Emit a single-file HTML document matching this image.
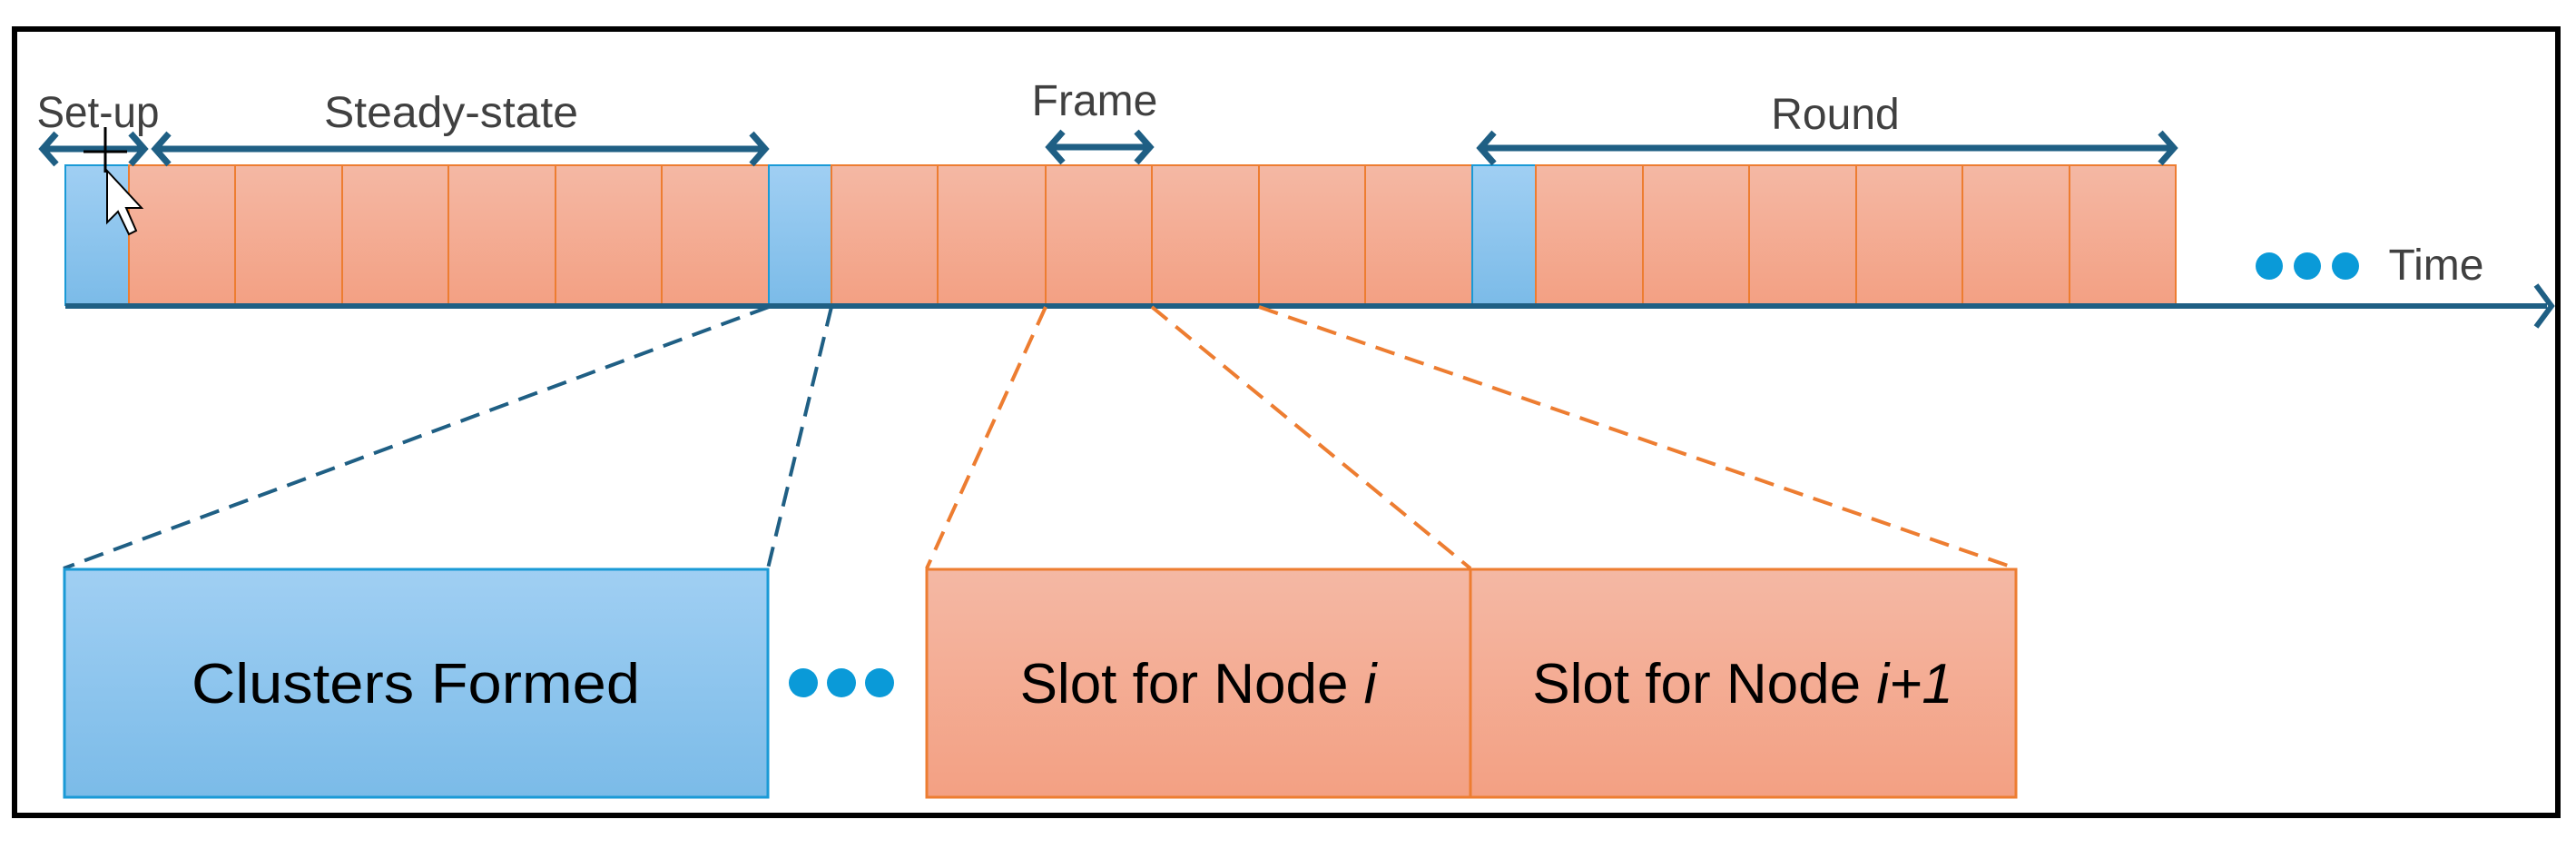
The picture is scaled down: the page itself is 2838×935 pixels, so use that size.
<!DOCTYPE html>
<html><head><meta charset="utf-8"><style>
html,body{margin:0;padding:0;background:#fff;}
svg{display:block;}
text{font-family:"Liberation Sans",sans-serif;}
</style></head><body>
<svg width="2838" height="935" viewBox="0 0 2838 935" xmlns="http://www.w3.org/2000/svg">
<defs>
<linearGradient id="bl" x1="0" y1="0" x2="0" y2="1"><stop offset="0" stop-color="#a0cff3"/><stop offset="1" stop-color="#7bbbe8"/></linearGradient>
<linearGradient id="or" x1="0" y1="0" x2="0" y2="1"><stop offset="0" stop-color="#f4b8a4"/><stop offset="1" stop-color="#f3a083"/></linearGradient>
</defs>
<rect x="16" y="32" width="2802" height="866" fill="none" stroke="#000" stroke-width="6"/>

<rect x="72" y="182" width="70" height="154" fill="url(#bl)" stroke="#1a9ad6" stroke-width="2"/>
<rect x="142" y="182" width="705" height="154" fill="url(#or)" stroke="#ed7d31" stroke-width="2"/>
<rect x="847" y="182" width="69" height="154" fill="url(#bl)" stroke="#1a9ad6" stroke-width="2"/>
<rect x="916" y="182" width="706" height="154" fill="url(#or)" stroke="#ed7d31" stroke-width="2"/>
<rect x="1622" y="182" width="70" height="154" fill="url(#bl)" stroke="#1a9ad6" stroke-width="2"/>
<rect x="1692" y="182" width="705" height="154" fill="url(#or)" stroke="#ed7d31" stroke-width="2"/>
<g stroke="#ed7d31" stroke-width="2">
<line x1="259" y1="182" x2="259" y2="336"/><line x1="377" y1="182" x2="377" y2="336"/><line x1="494" y1="182" x2="494" y2="336"/><line x1="612" y1="182" x2="612" y2="336"/><line x1="729" y1="182" x2="729" y2="336"/>
<line x1="1033" y1="182" x2="1033" y2="336"/><line x1="1152" y1="182" x2="1152" y2="336"/><line x1="1269" y1="182" x2="1269" y2="336"/><line x1="1387" y1="182" x2="1387" y2="336"/><line x1="1504" y1="182" x2="1504" y2="336"/>
<line x1="1810" y1="182" x2="1810" y2="336"/><line x1="1927" y1="182" x2="1927" y2="336"/><line x1="2045" y1="182" x2="2045" y2="336"/><line x1="2162" y1="182" x2="2162" y2="336"/><line x1="2280" y1="182" x2="2280" y2="336"/>
</g>
<line x1="72" y1="337" x2="2806" y2="337" stroke="#1f5f84" stroke-width="6"/>
<polyline points="2794,314 2811,337 2794,360" fill="none" stroke="#1f5f84" stroke-width="6"/>

<g fill="none" stroke="#1f5f84" stroke-width="7">
<line x1="48" y1="164" x2="158" y2="164"/><polyline points="62,147 47,164 62,181"/><polyline points="144,147 159,164 144,181"/>
<line x1="172" y1="164" x2="842" y2="164"/><polyline points="186,147 171,164 186,181"/><polyline points="828,147 843,164 828,181"/>
<line x1="1157" y1="162" x2="1266" y2="162"/><polyline points="1171,145 1156,162 1171,179"/><polyline points="1252,145 1267,162 1252,179"/>
<line x1="1632" y1="163" x2="2394" y2="163"/><polyline points="1646,146 1631,163 1646,180"/><polyline points="2380,146 2395,163 2380,180"/>
</g>
<g font-size="48" fill="#404040">
<text x="108" y="140" text-anchor="middle" textLength="135" lengthAdjust="spacingAndGlyphs">Set-up</text>
<text x="497" y="140" text-anchor="middle" textLength="280" lengthAdjust="spacingAndGlyphs">Steady-state</text>
<text x="1206" y="127" text-anchor="middle">Frame</text>
<text x="2022" y="142" text-anchor="middle">Round</text>
<text x="2684" y="308" text-anchor="middle">Time</text>
</g>
<g fill="#0a9ad8"><circle cx="2500" cy="293" r="15"/><circle cx="2542" cy="293" r="15"/><circle cx="2584" cy="293" r="15"/></g>

<polygon points="118,188 118,245 130,233 142,258 150,254 139,229 156,229" fill="#fff" stroke="#000" stroke-width="2"/>
<g stroke="#000" stroke-width="3"><line x1="92" y1="167" x2="140" y2="167"/><line x1="116" y1="140" x2="116" y2="190"/></g>

<g fill="none" stroke-width="4" stroke-dasharray="22,12">
<line x1="847" y1="338" x2="70" y2="626" stroke="#1f5f84"/>
<line x1="916" y1="338" x2="846" y2="626" stroke="#1f5f84"/>
<line x1="1152" y1="338" x2="1021" y2="626" stroke="#ed7d31"/>
<line x1="1269" y1="338" x2="1620" y2="626" stroke="#ed7d31"/>
<line x1="1387" y1="338" x2="2221" y2="626" stroke="#ed7d31"/>
</g>

<rect x="71" y="627" width="775" height="251" fill="url(#bl)" stroke="#1a9ad6" stroke-width="3"/>
<rect x="1021" y="627" width="599" height="251" fill="url(#or)" stroke="#ed7d31" stroke-width="3"/>
<rect x="1620" y="627" width="601" height="251" fill="url(#or)" stroke="#ed7d31" stroke-width="3"/>
<g font-size="62" fill="#000">
<text x="458" y="774" text-anchor="middle" textLength="494" lengthAdjust="spacingAndGlyphs">Clusters Formed</text>
<text x="1320" y="774" text-anchor="middle">Slot for Node <tspan font-style="italic">i</tspan></text>
<text x="1920" y="774" text-anchor="middle">Slot for Node <tspan font-style="italic">i+1</tspan></text>
</g>
<g fill="#0a9ad8"><circle cx="885" cy="752" r="16"/><circle cx="927" cy="752" r="16"/><circle cx="969" cy="752" r="16"/></g>
</svg>
</body></html>
